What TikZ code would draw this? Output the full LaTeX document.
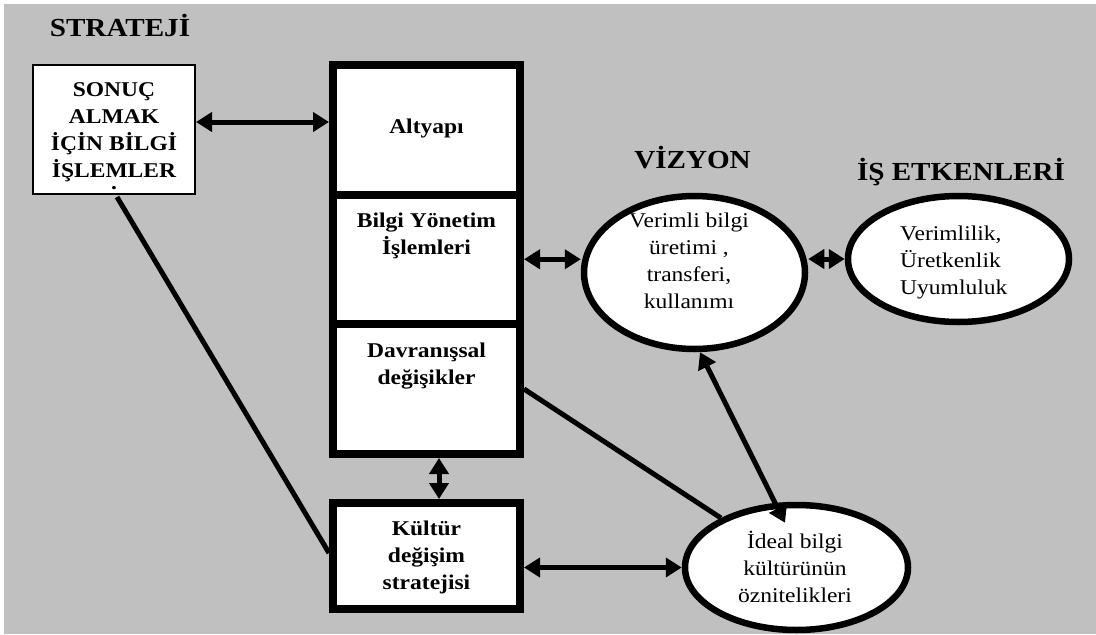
\documentclass[tikz,border=0pt]{standalone}
\usepackage{fontspec}
\setmainfont{Liberation Serif}[FakeStretch=1.12]
\usetikzlibrary{arrows.meta,shapes.geometric}
\definecolor{panel}{HTML}{C0C0C0}
\newcommand\lh{\rule{0pt}{20pt}}
\begin{document}
\begin{tikzpicture}[x=1pt,y=-1pt,
  box/.style={draw, fill=white, line width=8pt, inner sep=0pt},
  thinbox/.style={draw, fill=white, line width=2pt, inner sep=0pt},
  oval/.style={ellipse, draw, fill=white, line width=6.5pt, inner sep=0pt},
  conn/.style={line width=5pt},
  biarrow/.style={conn, {Triangle[length=16pt,width=19pt]}-{Triangle[length=16pt,width=19pt]}},
  hdr/.style={font=\fontsize{26}{30}\selectfont\bfseries, inner sep=0pt, anchor=base},
  btxt/.style={font=\fontsize{21}{27}\selectfont\bfseries, inner sep=0pt, align=center, anchor=north},
  rtxt/.style={font=\fontsize{21}{27}\selectfont, inner sep=0pt, align=center, anchor=north},
]
% page and grey panel
\useasboundingbox (0,0) rectangle (1096,635);
\fill[white] (0,0) rectangle (1096,635);
\fill[panel] (4,3.5) rectangle (1096,634);

% headings
\node[hdr] (strat) at (120,36) {STRATEJİ};
\node[hdr] (vizh) at (692.5,168) {VİZYON};
\node[hdr] (ish) at (961,180) {İŞ ETKENLERİ};

% strategy box
\node[thinbox, minimum width=162pt, minimum height=129pt] (sonuc) at (114,129.5) {};
\node[btxt] (sonucT) at (114,76) {\lh SONUÇ\\ALMAK\\İÇİN BİLGİ\\İŞLEMLER\\[-15pt].};

% stacked column of boxes
\node[box, minimum width=187pt, minimum height=129.5pt] (altyapi) at (426.5,129.75) {};
\node[box, minimum width=187pt, minimum height=129.5pt] (bilgi) at (426.5,259.25) {};
\node[box, minimum width=187pt, minimum height=130pt] (davran) at (426.5,389) {};
\node[box, minimum width=187pt, minimum height=106pt] (kultur) at (426.5,556) {};

\node[btxt, anchor=base] (altyapiT) at (426.5,133) {Altyapı};
\node[btxt] (bilgiT) at (426.5,207) {\lh Bilgi Yönetim\\İşlemleri};
\node[btxt] (davranT) at (426.5,337) {\lh Davranışsal\\değişikler};
\node[btxt] (kulturT) at (426.5,515) {\lh Kültür\\değişim\\stratejisi};

% ellipses
\node[oval, minimum width=221pt, minimum height=153pt] (viz) at (694.5,272.5) {};
\node[oval, minimum width=221pt, minimum height=126pt] (is) at (958.5,259) {};
\node[oval, minimum width=223pt, minimum height=125pt] (ideal) at (796.5,567.5) {};

\node[rtxt] (vizT) at (689,207) {\lh Verimli bilgi\\üretimi ,\\transferi,\\kullanımı};
\node[rtxt, align=left, anchor=north west] (isT) at (900,220) {\lh Verimlilik,\\Üretkenlik\\Uyumluluk};
\node[rtxt] (idealT) at (795,528) {\lh İdeal bilgi\\kültürünün\\öznitelikleri};

% connectors
\coordinate (sa) at ([yshift=7.5pt]sonuc.east);
\draw[biarrow] (sa) -- (sa -| altyapi.west);
\draw[biarrow] (bilgi.east) -- (bilgi.east -| viz.west);
\draw[biarrow] (viz.east |- is.west) -- (is.west);
\draw[biarrow] ([xshift=12.5pt]davran.south) -- ([xshift=12.5pt]kultur.north);
\draw[biarrow] (kultur.east |- ideal.west) -- (ideal.west);
\draw[biarrow] ([xshift=5.5pt]viz.south) -- ([xshift=-11.5pt,yshift=-21pt]ideal.north);
\draw[conn] ([xshift=3pt,yshift=-2pt]sonuc.south) -- ([yshift=3pt]kultur.west);
\draw[conn] (davran.east) -- (ideal);
\end{tikzpicture}
\end{document}
